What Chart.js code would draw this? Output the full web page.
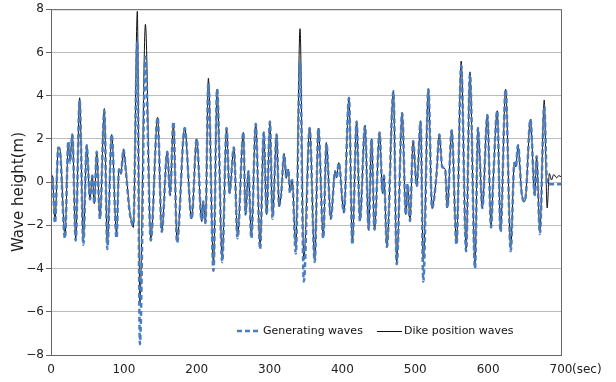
<!DOCTYPE html>
<html>
<head>
<meta charset="utf-8">
<script src="https://cdn.jsdelivr.net/npm/chart.js@4.4.1/dist/chart.umd.min.js"></script>
<style>
  html, body { margin: 0; padding: 0; background: #fff; }
  #wave-chart { display: block; }
</style>
</head>
<body>
<canvas id="wave-chart" width="616" height="382"></canvas>
<script>
// time (sec) of each read-off turning point
const times = [
  0, 1.8, 5.5, 10, 12.4, 19.2, 23.8, 26, 29.3, 33.9, 39.3, 44.4, 49, 53.5, 56.7, 59.5, 62.7, 67.2, 73.2, 77.3,
  83.3, 90, 93.3, 96, 99.5, 103, 108, 113, 118.5, 122, 129.6, 137, 146.4, 152, 159.6, 163.5, 168, 173, 183.5, 193,
  200, 206.8, 209, 212, 216, 223, 228, 235, 241, 245, 251, 256, 264, 267, 271, 275, 281, 287, 292, 296,
  300.5, 304, 309.7, 313, 316, 320, 323, 325.7, 328, 331, 336, 341.8, 347, 355, 362, 367, 373.7, 378, 384, 390,
  392, 395, 402, 409, 413.6, 419.5, 424, 431, 436, 440, 444, 451, 455, 457, 461, 470, 474.5, 482, 487, 489.5,
  492.7, 497, 502, 507.3, 511, 518, 523, 529, 533, 537, 541, 544, 550, 556.6, 563, 569.8, 575, 582, 586, 588,
  592, 599, 604, 607, 612.5, 617, 624, 631, 636, 638, 641, 646, 650, 652, 658, 664, 666.5, 671, 677, 681,
  684, 687, 690, 694, 697, 700,
];

// Generating waves (m)
const generating = [
  0.0, 0.3, -1.9, 1.6, 1.4, -2.6, 1.9, 0.9, 2.2, -2.7, 3.8, -2.9, 1.7, -0.8, 0.3, -1.0, 1.4, -1.7, 3.3, -3.1,
  2.2, -2.6, 0.6, 0.4, 1.5, 0.4, -1.4, -2.0, 6.5, -7.5, 5.8, -2.7, 3.0, -2.3, 1.4, -0.6, 2.8, -2.8, 2.5, -1.7,
  2.0, -1.8, -0.9, -1.9, 4.6, -4.1, 4.3, -3.7, 2.5, -0.5, 1.6, -2.6, 2.3, -1.5, 0.5, -2.6, 2.7, -3.1, 2.3, -1.5,
  2.8, -1.7, 2.2, -1.1, -0.5, 1.3, 0.2, 0.6, -0.5, 0.1, -3.3, 5.6, -4.6, 2.5, -3.7, 2.5, -2.6, 1.8, -1.7, 0.5,
  0.2, 0.9, -1.4, 3.9, -2.9, 2.8, -1.8, 2.6, -2.2, 2.0, -2.2, 2.3, -0.5, 0.3, -3.0, 4.2, -3.8, 3.2, -1.5, -0.1,
  -1.8, 1.9, -0.2, 2.8, -4.6, 4.3, -1.2, 0.3, 2.2, 0.7, 0.6, -1.2, 2.4, -2.9, 5.4, -3.2, 5.0, -4.0, 2.5, 1.5,
  -1.2, 3.1, -2.1, 0.1, 3.3, -2.3, 4.3, -3.2, 0.9, 0.7, 1.7, -0.5, -0.9, -0.5, 2.9, -0.6, 1.2, -2.4, 3.5, -0.1,
  -0.1, -0.1, -0.1, -0.1, -0.1, -0.1,
];

// Dike position waves (m)
const dike = [
  0.0, 0.3, -1.8, 1.6, 1.5, -2.5, 1.8, 1.0, 2.2, -2.6, 3.9, -2.7, 1.7, -0.8, 0.3, -1.0, 1.4, -1.7, 3.4, -2.9,
  2.2, -2.4, 0.6, 0.4, 1.5, 0.5, -1.3, -2.1, 7.9, -5.6, 7.3, -2.6, 3.0, -2.3, 1.4, -0.6, 2.7, -2.7, 2.5, -1.7,
  2.0, -1.8, -0.9, -1.9, 4.8, -3.8, 4.3, -3.5, 2.5, -0.5, 1.6, -2.5, 2.3, -1.5, 0.5, -2.5, 2.7, -3.0, 2.3, -1.5,
  2.8, -1.6, 2.2, -1.1, -0.5, 1.3, 0.2, 0.6, -0.4, 0.1, -3.0, 7.1, -3.6, 2.5, -3.6, 2.5, -2.5, 1.8, -1.7, 0.5,
  0.2, 0.9, -1.4, 3.9, -2.8, 2.8, -1.8, 2.6, -2.2, 2.0, -2.2, 2.3, -0.5, 0.3, -3.0, 4.2, -3.7, 3.2, -1.5, -0.1,
  -1.8, 1.9, -0.2, 2.8, -3.7, 4.3, -1.2, 0.3, 2.2, 0.7, 0.6, -1.2, 2.4, -2.8, 5.6, -3.1, 5.1, -3.8, 2.5, 1.6,
  -1.2, 3.1, -2.0, 0.1, 3.3, -2.2, 4.3, -3.0, 0.9, 0.7, 1.7, -0.5, -0.9, -0.5, 2.9, -0.6, 1.2, -2.3, 3.8, -1.2,
  0.4, 0.1, 0.35, 0.2, 0.3, 0.25,
];

const xTicks = [0, 100, 200, 300, 400, 500, 600, 700];
const yTicks = [-8, -6, -4, -2, 0, 2, 4, 6, 8];

const BLUE = '#4a7cc0';
const FONT = '"DejaVu Sans", sans-serif';

const toPoints = (values) => times.map((t, i) => ({ x: t, y: values[i] }));

// frame, y title, "(sec)" unit and the in-plot legend
const decorations = {
  id: 'decorations',
  afterDraw(chart) {
    const { ctx, chartArea: a } = chart;
    ctx.save();
    ctx.strokeStyle = '#666';
    ctx.lineWidth = 1;
    ctx.strokeRect(a.left + 0.5, a.top + 0.5, a.right - a.left, a.bottom - a.top);

    ctx.fillStyle = '#222';
    ctx.font = `12px ${FONT}`;
    ctx.textBaseline = 'middle';
    ctx.textAlign = 'left';
    ctx.fillText('(sec)', a.right + 11, 370);

    ctx.save();
    ctx.translate(19, 192);
    ctx.rotate(-Math.PI / 2);
    ctx.textAlign = 'center';
    ctx.font = `15px ${FONT}`;
    ctx.fillText('Wave height(m)', 0, 0);
    ctx.restore();

    const ly = 331;
    ctx.font = `11px ${FONT}`;
    ctx.lineWidth = 2.5;
    ctx.strokeStyle = BLUE;
    ctx.setLineDash([5, 3]);
    ctx.beginPath();
    ctx.moveTo(237, ly);
    ctx.lineTo(260, ly);
    ctx.stroke();
    ctx.setLineDash([]);
    ctx.fillStyle = '#111';
    ctx.fillText(chart.data.datasets[0].label, 263, ly);

    ctx.lineWidth = 1;
    ctx.strokeStyle = '#111';
    ctx.beginPath();
    ctx.moveTo(377, ly + 0.5);
    ctx.lineTo(402, ly + 0.5);
    ctx.stroke();
    ctx.fillText(chart.data.datasets[1].label, 404, ly);
    ctx.restore();
  },
};

new Chart(document.getElementById('wave-chart'), {
  type: 'line',
  data: {
    datasets: [
      {
        label: 'Generating waves',
        data: toPoints(generating),
        borderColor: BLUE,
        borderWidth: 2.5,
        borderDash: [5, 3],
        pointRadius: 0,
        cubicInterpolationMode: 'monotone',
        order: 0,
      },
      {
        label: 'Dike position waves',
        data: toPoints(dike),
        borderColor: '#111',
        borderWidth: 1,
        pointRadius: 0,
        cubicInterpolationMode: 'monotone',
        order: 1,
      },
    ],
  },
  options: {
    responsive: false,
    animation: false,
    layout: { padding: { left: 0, right: 55, top: 8, bottom: 0 } },
    plugins: { legend: { display: false }, tooltip: { enabled: false } },
    scales: {
      x: {
        type: 'linear',
        min: 0,
        max: 700,
        afterBuildTicks: (scale) => { scale.ticks = xTicks.map((v) => ({ value: v })); },
        afterFit: (scale) => { scale.height = 27; },
        grid: { display: false, drawTicks: false },
        border: { color: '#666' },
        ticks: { color: '#222', font: { family: FONT, size: 12 }, padding: 8, maxRotation: 0 },
      },
      y: {
        min: -8,
        max: 8,
        afterBuildTicks: (scale) => { scale.ticks = yTicks.map((v) => ({ value: v })); },
        afterFit: (scale) => { scale.width = 51; },
        grid: { color: '#bdbdbd', tickColor: '#666', tickLength: 5 },
        border: { color: '#666' },
        ticks: {
          color: '#222',
          font: { family: FONT, size: 12 },
          padding: 2,
          callback: (v) => String(v).replace('-', '\u2212'),
        },
      },
    },
  },
  plugins: [decorations],
});
</script>
</body>
</html>
